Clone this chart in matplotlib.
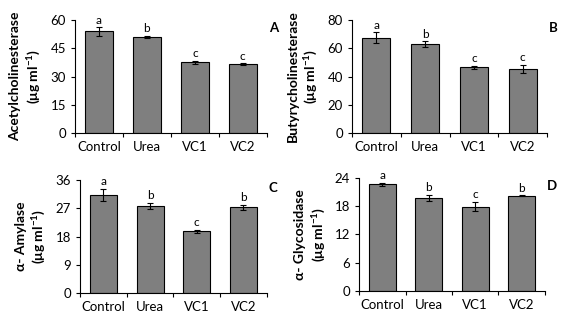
import matplotlib
matplotlib.use('Agg')
from matplotlib import pyplot as plt
import numpy as np

plt.rcParams['font.family'] = ['Lato', 'DejaVu Sans']
plt.rcParams['mathtext.fontset'] = 'custom'
plt.rcParams['mathtext.rm'] = 'Lato'
plt.rcParams['mathtext.bf'] = 'Lato:bold'

groups = ['Control', 'Urea', 'VC1', 'VC2']

ache = [54.0, 51.0, 37.5, 36.5]
ache_err = [2.2, 0.5, 1.0, 0.6]
ache_sig = ['a', 'b', 'c', 'c']

bche = [67.5, 63.0, 46.5, 45.5]
bche_err = [3.8, 2.0, 1.0, 3.0]
bche_sig = ['a', 'b', 'c', 'c']

amy = [31.2, 27.7, 19.7, 27.3]
amy_err = [2.0, 1.0, 0.5, 0.9]
amy_sig = ['a', 'b', 'c', 'b']

gly = [22.7, 19.8, 17.9, 20.2]
gly_err = [0.35, 0.6, 1.0, 0.1]
gly_sig = ['a', 'b', 'c', 'b']

panels = [
    ('A', 'Acetylcholinesterase', ache, ache_err, ache_sig, 60, 15, [0.133, 0.591, 0.340, 0.347]),
    ('B', 'Butyrycholinesterase', bche, bche_err, bche_sig, 80, 20, [0.624, 0.591, 0.346, 0.347]),
    ('C', 'α- Amylase', amy, amy_err, amy_sig, 36, 9, [0.142, 0.098, 0.331, 0.348]),
    ('D', 'α- Glycosidase', gly, gly_err, gly_sig, 24, 6, [0.637, 0.105, 0.329, 0.347]),
]

fig = plt.figure(figsize=(5.64, 3.25), dpi=100)
x = np.arange(len(groups))

for letter, name, vals, errs, sig, ymax, step, pos in panels:
    ax = fig.add_axes(pos)
    ax.bar(x, vals, width=0.58, color='#7f7f7f', edgecolor='black', linewidth=0.8,
           yerr=errs, error_kw=dict(ecolor='black', elinewidth=0.8, capsize=2.5, capthick=0.8))
    for xi, v, e, s in zip(x, vals, errs, sig):
        ax.text(xi, v + e + ymax * 0.015, s, ha='center', va='bottom', fontsize=8.5)
    ax.set_xlim(-0.5, len(groups) - 0.5)
    ax.set_ylim(0, ymax)
    ax.set_yticks(np.arange(0, ymax + 1, step))
    ax.set_xticks(x)
    ax.set_xticklabels(groups, fontsize=9.5)
    ax.set_xticks(np.arange(-0.5, len(groups), 1), minor=True)
    ax.tick_params(axis='x', which='major', length=0, pad=6)
    ax.tick_params(axis='x', which='minor', length=3, width=0.8, direction='out')
    ax.tick_params(axis='y', length=3, width=0.8, direction='out', labelsize=9.5, colors='black')
    ax.spines['top'].set_visible(False)
    ax.spines['right'].set_visible(False)
    ax.spines['left'].set_linewidth(0.8)
    ax.spines['bottom'].set_linewidth(0.8)
    ax.set_ylabel(name + '\n(μg ml$^{\\mathbf{-1}}$)', fontsize=10, fontweight='bold', labelpad=6)
    ax.text(1.01, 0.93, letter, transform=ax.transAxes, fontsize=9.5, fontweight='bold',
            ha='left', va='center')

fig.savefig('out.png', dpi=100)
